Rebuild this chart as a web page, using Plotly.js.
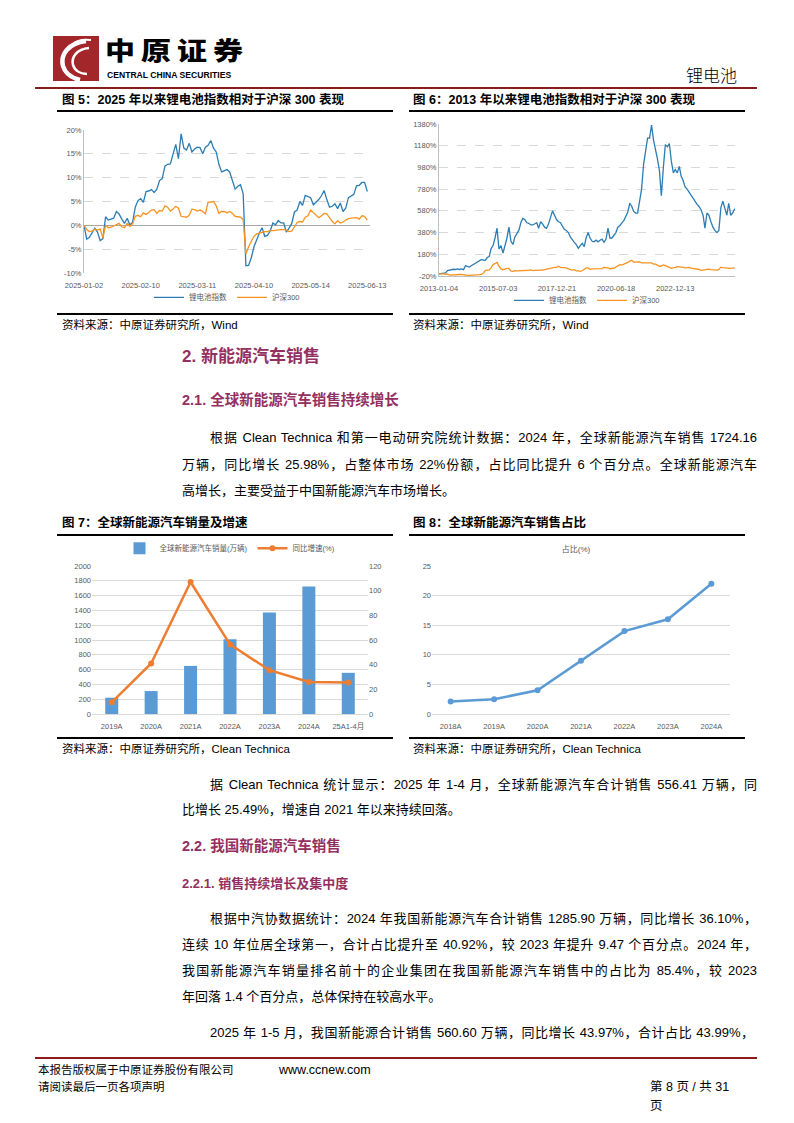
<!DOCTYPE html>
<html><head><meta charset="utf-8">
<script src="https://cdn.plot.ly/plotly-3.0.1.min.js"></script>
<style>
body{margin:0;background:#fff;}
#page{position:relative;width:794px;height:1123px;overflow:hidden;font-family:"Liberation Sans","Noto Sans CJK SC",sans-serif;color:#000;}
.abs{position:absolute;white-space:nowrap;}
.rule{position:absolute;height:2px;background:#000;}
.ftitle{position:absolute;white-space:nowrap;font-size:12.5px;font-weight:bold;line-height:14px;}
.src{position:absolute;white-space:nowrap;font-size:11.5px;line-height:13px;}
.hd{position:absolute;white-space:nowrap;font-weight:bold;color:#93305F;}
.ln{position:absolute;font-size:13px;line-height:16px;text-align:justify;text-align-last:justify;}
.lnl{position:absolute;font-size:13px;line-height:16px;white-space:nowrap;}
.chart{position:absolute;}
</style></head>
<body><div id="page">

<!-- header -->
<svg class="abs" style="left:53px;top:36px" width="46" height="45" viewBox="0 0 46 45">
  <rect width="46" height="45" fill="#A3262A"/>
  <path d="M33 5 C 16 7, 7 18, 10 30 C 12 37, 19 42, 27 44" stroke="#fff" stroke-width="4.5" fill="none"/>
  <path d="M36 12 C 24 13, 18 21, 20 29 C 22 35, 28 38, 34 38" stroke="#fff" stroke-width="2.5" fill="none"/>
  <path d="M20 8 C 24 4, 30 3, 38 4" stroke="#fff" stroke-width="2" fill="none"/>
</svg>
<div class="abs" style="left:105px;top:37px;font-size:25px;font-weight:900;letter-spacing:5px;font-family:'Noto Sans CJK SC';line-height:25px;transform:scaleX(1.2);transform-origin:left center;">中原证券</div>
<div class="abs" style="left:107px;top:70px;font-size:8.6px;font-weight:bold;line-height:10px;">CENTRAL CHINA SECURITIES</div>
<div class="abs" style="left:686px;top:65px;font-size:17px;line-height:20px;font-family:'Noto Sans CJK SC';font-weight:300;">锂电池</div>
<div class="abs" style="left:35px;top:87px;width:722px;height:2px;background:#8B1C1C;"></div>

<!-- figure 5 / 6 titles -->
<div class="ftitle" style="left:62px;top:93px;">图 5：2025 年以来锂电池指数相对于沪深 300 表现</div>
<div class="ftitle" style="left:413px;top:93px;">图 6：2013 年以来锂电池指数相对于沪深 300 表现</div>
<div class="rule" style="left:57px;top:110px;width:336px;"></div>
<div class="rule" style="left:409px;top:110px;width:336px;"></div>
<div id="c5" class="chart" style="left:57px;top:113px;width:340px;height:195px;"></div>
<div id="c6" class="chart" style="left:407px;top:113px;width:338px;height:195px;"></div>
<div class="rule" style="left:57px;top:313px;width:336px;"></div>
<div class="rule" style="left:409px;top:313px;width:336px;"></div>
<div class="src" style="left:62px;top:319px;">资料来源：中原证券研究所，Wind</div>
<div class="src" style="left:413px;top:319px;">资料来源：中原证券研究所，Wind</div>

<!-- section 2 -->
<div class="hd" style="left:182px;top:346px;font-size:17px;line-height:22px;">2. 新能源汽车销售</div>
<div class="hd" style="left:182px;top:391px;font-size:14.5px;line-height:18px;">2.1. 全球新能源汽车销售持续增长</div>
<div class="ln" style="left:210px;top:430px;width:547px;">根据 Clean Technica 和第一电动研究院统计数据：2024 年，全球新能源汽车销售 1724.16</div>
<div class="ln" style="left:182px;top:457px;width:575px;">万辆，同比增长 25.98%，占整体市场 22%份额，占比同比提升 6 个百分点。全球新能源汽车</div>
<div class="lnl" style="left:182px;top:483px;">高增长，主要受益于中国新能源汽车市场增长。</div>

<!-- figure 7 / 8 -->
<div class="ftitle" style="left:62px;top:516px;">图 7：全球新能源汽车销量及增速</div>
<div class="ftitle" style="left:413px;top:516px;">图 8：全球新能源汽车销售占比</div>
<div class="rule" style="left:57px;top:534px;width:336px;"></div>
<div class="rule" style="left:409px;top:534px;width:336px;"></div>
<div id="c7" class="chart" style="left:57px;top:537px;width:340px;height:200px;"></div>
<div id="c8" class="chart" style="left:407px;top:537px;width:338px;height:200px;"></div>
<div class="rule" style="left:57px;top:737px;width:336px;"></div>
<div class="rule" style="left:409px;top:737px;width:336px;"></div>
<div class="src" style="left:62px;top:743px;">资料来源：中原证券研究所，Clean Technica</div>
<div class="src" style="left:413px;top:743px;">资料来源：中原证券研究所，Clean Technica</div>

<div class="ln" style="left:210px;top:777px;width:547px;">据 Clean Technica 统计显示：2025 年 1-4 月，全球新能源汽车合计销售 556.41 万辆，同</div>
<div class="lnl" style="left:182px;top:802px;">比增长 25.49%，增速自 2021 年以来持续回落。</div>

<div class="hd" style="left:182px;top:837px;font-size:14.5px;line-height:18px;">2.2. 我国新能源汽车销售</div>
<div class="hd" style="left:182px;top:876px;font-size:13px;line-height:16px;">2.2.1. 销售持续增长及集中度</div>
<div class="ln" style="left:210px;top:911px;width:547px;">根据中汽协数据统计：2024 年我国新能源汽车合计销售 1285.90 万辆，同比增长 36.10%，</div>
<div class="ln" style="left:182px;top:937px;width:575px;">连续 10 年位居全球第一，合计占比提升至 40.92%，较 2023 年提升 9.47 个百分点。2024 年，</div>
<div class="ln" style="left:182px;top:963px;width:575px;">我国新能源汽车销量排名前十的企业集团在我国新能源汽车销售中的占比为 85.4%，较 2023</div>
<div class="lnl" style="left:182px;top:989px;">年回落 1.4 个百分点，总体保持在较高水平。</div>
<div class="ln" style="left:210px;top:1025px;width:544px;">2025 年 1-5 月，我国新能源合计销售 560.60 万辆，同比增长 43.97%，合计占比 43.99%，</div>

<!-- footer -->
<div class="abs" style="left:35px;top:1057px;width:722px;height:2px;background:#8B1C1C;"></div>
<div class="abs" style="left:38px;top:1063px;font-size:11.5px;line-height:14px;">本报告版权属于中原证券股份有限公司</div>
<div class="abs" style="left:279px;top:1063px;font-size:12.5px;line-height:14px;">www.ccnew.com</div>
<div class="abs" style="left:38px;top:1080px;font-size:11.5px;line-height:14px;">请阅读最后一页各项声明</div>
<div class="abs" style="left:650px;top:1080px;font-size:12.5px;line-height:14px;">第 8 页 / 共 31</div>
<div class="abs" style="left:650px;top:1099px;font-size:12.5px;line-height:14px;">页</div>

</div>
<script>
// ---------- data: figure 5 (2025 daily, relative performance %) ----------
const holidays2025 = ['2025-01-28','2025-01-29','2025-01-30','2025-01-31','2025-02-03','2025-02-04','2025-04-04','2025-05-01','2025-05-02','2025-05-05','2025-06-02'];
const c5TickLabels = ['2025-01-02','2025-02-10','2025-03-11','2025-04-10','2025-05-14','2025-06-13'];
const lithium2025 = [
 0,-2.9,-2.5,-1.5,-0.6,-1.4,-3.2,-2.8,1.8,1.1,1.3,1.5,2.9,2.4,1.3,0.4,1.5,0.1,0.6,3.8,5.2,5.6,
 4.8,7.1,7.2,7.5,6.9,7.6,9.4,9.8,12.4,12.8,12.9,15.0,17.0,14.0,19.2,16.2,15.8,17.2,15.4,16.0,16.4,
 16.3,15.0,16.4,16.8,17.8,16.2,15.4,12.8,11.2,11.4,11.7,11.2,9.6,7.6,8.2,8.5,6.6,-8.5,-8.4,-6.8,-4.5,
 -3.0,-1.6,-0.5,-2.3,-2.1,-1.2,0.5,0.1,1.0,0.5,0.5,-1.4,-0.6,0.4,2.8,3.2,5.0,4.2,6.3,6.0,5.8,
 4.3,4.8,5.4,6.2,7.3,5.4,3.8,4.0,4.5,3.5,4.7,2.9,3.6,5.8,6.2,6.5,8.3,8.4,9.0,9.0,7.1];
const hs300_2025 = [
 0,-0.9,-1.3,-1.2,-0.8,-1.0,-0.8,-2.6,0.0,-0.5,-0.4,-0.1,0.2,0.4,-0.3,-0.5,0.4,-0.2,0.3,1.9,2.1,1.8,
 2.6,2.3,2.7,3.2,3.3,2.5,3.1,3.0,4.1,3.8,3.0,3.4,4.0,3.6,1.9,1.8,1.7,2.1,3.4,3.3,3.0,
 3.2,2.9,2.4,4.9,4.8,5.0,4.1,2.5,2.9,2.9,2.6,2.9,2.5,1.9,1.8,1.7,1.2,-6.0,-4.5,-3.5,-2.3,
 -1.8,-1.6,-1.4,-1.3,-1.3,-1.1,-1.1,-1.0,-0.9,-0.9,-0.9,-1.0,-1.3,-1.2,-0.3,0.6,0.8,0.7,1.7,2.0,3.2,
 2.6,2.0,1.6,2.0,2.5,2.4,1.6,0.8,0.3,1.0,0.5,0.7,1.1,1.4,1.5,1.5,1.6,1.3,2.0,1.9,1.1];
const c5YTicks = [-10,-5,0,5,10,15,20];
const c5YLabels = ['-10%','-5%','0%','5%','10%','15%','20%'];

// ---------- data: figure 6 (2013 onward, monthly reading, %) ----------
const lithiumLong = [
 0,2,5,8,30,35,38,42,40,45,40,45,
 38,75,68,62,75,85,95,110,120,130,128,122,
 150,160,230,260,330,420,230,260,190,260,330,430,
 300,270,340,370,400,470,510,500,470,465,450,450,
 460,470,420,480,460,430,420,460,520,580,540,500,
 480,470,440,410,400,380,340,310,290,270,235,260,
 280,250,330,380,330,300,295,310,295,310,320,290,
 320,420,330,330,350,380,430,445,470,490,530,570,
 650,620,575,560,560,670,780,1010,1160,1250,1250,1370,
 1230,1150,1060,950,720,980,1190,1170,1200,1040,930,960,
 930,990,900,860,800,780,750,720,690,660,640,620,
 590,540,420,560,540,480,430,400,380,400,610,670,
 600,540,650,540,560,600];
const hs300Long = [
 0,2,0,-5,-2,-12,-10,-8,-5,-3,-6,-6,
 -10,-12,-14,-14,-14,-14,-10,-8,-8,-4,5,30,
 30,36,55,85,95,105,70,45,38,45,50,50,
 25,22,30,28,28,28,30,33,31,33,36,30,
 32,35,36,34,35,40,45,48,50,58,60,60,
 70,60,58,55,55,45,40,35,38,28,28,22,
 28,42,55,55,42,45,45,45,48,50,48,58,
 58,55,45,52,50,62,80,85,80,87,95,105,
 118,125,108,108,110,110,100,100,98,100,98,100,
 90,90,80,70,72,82,75,70,60,50,58,60,
 66,66,62,60,55,55,60,52,50,45,43,40,
 32,35,38,40,43,38,37,34,35,40,62,58,
 55,57,56,50,53,55];
const c6TickLabels = ['2013-01-04','2015-07-03','2017-12-21','2020-06-18','2022-12-13'];
const c6YTicks = [-20,180,380,580,780,980,1180,1380];
const c6YLabels = ['-20%','180%','380%','580%','780%','980%','1180%','1380%'];

// ---------- data: figure 7 ----------
const c7Categories = ['2019A','2020A','2021A','2022A','2023A','2024A','25A1-4月'];
const nevSales = [220, 310, 650, 1010, 1370, 1724.16, 556.41];
const nevGrowth = [9.5, 41, 107, 56.5, 35.5, 25.98, 25.49];

// ---------- data: figure 8 ----------
const c8Categories = ['2018A','2019A','2020A','2021A','2022A','2023A','2024A'];
const nevShare = [2.1, 2.5, 4, 9, 14, 16, 22];

// ---------- helpers ----------
function tradingDays(start, end, holidays){
  const out=[]; const d=new Date(start+'T00:00:00Z'); const e=new Date(end+'T00:00:00Z');
  while(d<=e){ const wd=d.getUTCDay(); const s=d.toISOString().slice(0,10);
    if(wd!==0 && wd!==6 && holidays.indexOf(s)<0) out.push(s);
    d.setUTCDate(d.getUTCDate()+1); }
  return out;
}
function monthDates(n){
  const out=[];
  for(let m=0;m<n;m++){
    if(m===0){out.push('2013-01-04');continue;}
    const y=2013+Math.floor(m/12), mo=(m%12)+1;
    out.push(y+'-'+String(mo).padStart(2,'0')+'-15');
  }
  return out;
}
const FONT = '"Liberation Sans","Noto Sans CJK SC",sans-serif';
const TXT = '#595959';
const cfg = {staticPlot:true, displayModeBar:false};
const BLUE = '#2C7DB3', ORANGE = '#F7931E';
const HIDDEN_TICK = {ticks:'outside', ticklen:5, tickcolor:'rgba(0,0,0,0)'};

// ---------- figure 5 ----------
const c5Dates = tradingDays('2025-01-02','2025-06-13',holidays2025).slice(0, lithium2025.length);
Plotly.newPlot('c5', [
  {x:c5Dates, y:lithium2025, type:'scatter', mode:'lines', name:'锂电池指数', line:{color:BLUE, width:1.3}},
  {x:c5Dates, y:hs300_2025, type:'scatter', mode:'lines', name:'沪深300', line:{color:ORANGE, width:1.3}}
], {
  width:340, height:195, margin:{l:27,r:27,t:17,b:35,autoexpand:false},
  paper_bgcolor:'rgba(0,0,0,0)', plot_bgcolor:'rgba(0,0,0,0)',
  font:{family:FONT, size:7.5, color:TXT},
  xaxis:Object.assign({type:'category', range:[0,106], tickmode:'array', tickvals:c5TickLabels, ticktext:c5TickLabels,
         showgrid:false, showline:false, zeroline:false, tickangle:0, automargin:false}, HIDDEN_TICK),
  yaxis:{range:[-10,20], tickmode:'array', tickvals:c5YTicks, ticktext:c5YLabels, showgrid:true, gridcolor:'#D9D9D9',
         griddash:'dash', showline:true, linecolor:'#BFBFBF', zeroline:true, zerolinecolor:'#A6A6A6', zerolinewidth:1, ticks:'', automargin:false},
  showlegend:true,
  legend:{orientation:'h', x:0.5, xanchor:'center', y:-0.17, yanchor:'middle', font:{size:7.5, color:TXT}, itemwidth:30}
}, cfg);

// ---------- figure 6 ----------
const c6Dates = monthDates(lithiumLong.length);
Plotly.newPlot('c6', [
  {x:c6Dates, y:lithiumLong, type:'scatter', mode:'lines', name:'锂电池指数', line:{color:BLUE, width:1.3}},
  {x:c6Dates, y:hs300Long, type:'scatter', mode:'lines', name:'沪深300', line:{color:ORANGE, width:1.3}}
], {
  width:338, height:195, margin:{l:32,r:10,t:11,b:32,autoexpand:false},
  paper_bgcolor:'rgba(0,0,0,0)', plot_bgcolor:'rgba(0,0,0,0)',
  font:{family:FONT, size:7.5, color:TXT},
  xaxis:Object.assign({type:'date', range:['2013-01-04','2025-06-20'], tickmode:'array', tickvals:c6TickLabels, ticktext:c6TickLabels,
         showgrid:false, showline:true, linecolor:'#BFBFBF', zeroline:false, tickangle:0, automargin:false}, HIDDEN_TICK),
  yaxis:{range:[-20,1380], tickmode:'array', tickvals:c6YTicks, ticktext:c6YLabels, showgrid:true, gridcolor:'#D9D9D9',
         griddash:'dash', showline:true, linecolor:'#BFBFBF', zeroline:false, ticks:'', automargin:false},
  showlegend:true,
  legend:{orientation:'h', x:0.5, xanchor:'center', y:-0.16, yanchor:'middle', font:{size:7.5, color:TXT}, itemwidth:30}
}, cfg);

// ---------- figure 7 ----------
Plotly.newPlot('c7', [
  {x:c7Categories, y:nevSales, type:'bar', name:'全球新能源汽车销量(万辆)', marker:{color:'#5B9BD5'}, width:0.33},
  {x:c7Categories, y:nevGrowth, type:'scatter', mode:'lines+markers', yaxis:'y2', name:'同比增速(%)',
   line:{color:'#ED7D31', width:2.5}, marker:{color:'#ED7D31', size:6}}
], {
  width:340, height:200, margin:{l:35,r:29,t:29,b:23,autoexpand:false},
  paper_bgcolor:'rgba(0,0,0,0)', plot_bgcolor:'rgba(0,0,0,0)',
  font:{family:FONT, size:7.5, color:TXT},
  xaxis:Object.assign({type:'category', showgrid:false, showline:true, linecolor:'#D9D9D9', tickangle:0, automargin:false}, HIDDEN_TICK),
  yaxis:{range:[0,2000], dtick:200, showgrid:true, gridcolor:'#D9D9D9', zeroline:false, showline:false, ticks:'', automargin:false},
  yaxis2:{range:[0,120], dtick:20, overlaying:'y', side:'right', showgrid:false, zeroline:false, showline:false, ticks:'', automargin:false},
  showlegend:true,
  legend:{orientation:'h', x:0.5, xanchor:'center', y:1.12, yanchor:'middle', font:{size:7.5, color:TXT}, itemwidth:30}
}, cfg);

// ---------- figure 8 ----------
Plotly.newPlot('c8', [
  {x:c8Categories, y:nevShare, type:'scatter', mode:'lines+markers', name:'占比(%)',
   line:{color:'#5B9BD5', width:2.5}, marker:{color:'#5B9BD5', size:6}}
], {
  width:338, height:200, margin:{l:25,r:15,t:29,b:23,autoexpand:false},
  paper_bgcolor:'rgba(0,0,0,0)', plot_bgcolor:'rgba(0,0,0,0)',
  font:{family:FONT, size:7.5, color:TXT},
  title:{text:'占比(%)', x:0.5, xanchor:'center', y:0.94, yanchor:'middle', font:{size:8, color:TXT}},
  xaxis:Object.assign({type:'category', showgrid:false, showline:true, linecolor:'#D9D9D9', tickangle:0, automargin:false}, HIDDEN_TICK),
  yaxis:{range:[0,25], dtick:5, showgrid:true, gridcolor:'#D9D9D9', zeroline:false, showline:false, ticks:'', automargin:false},
  showlegend:false
}, cfg);
</script>
</body></html>
